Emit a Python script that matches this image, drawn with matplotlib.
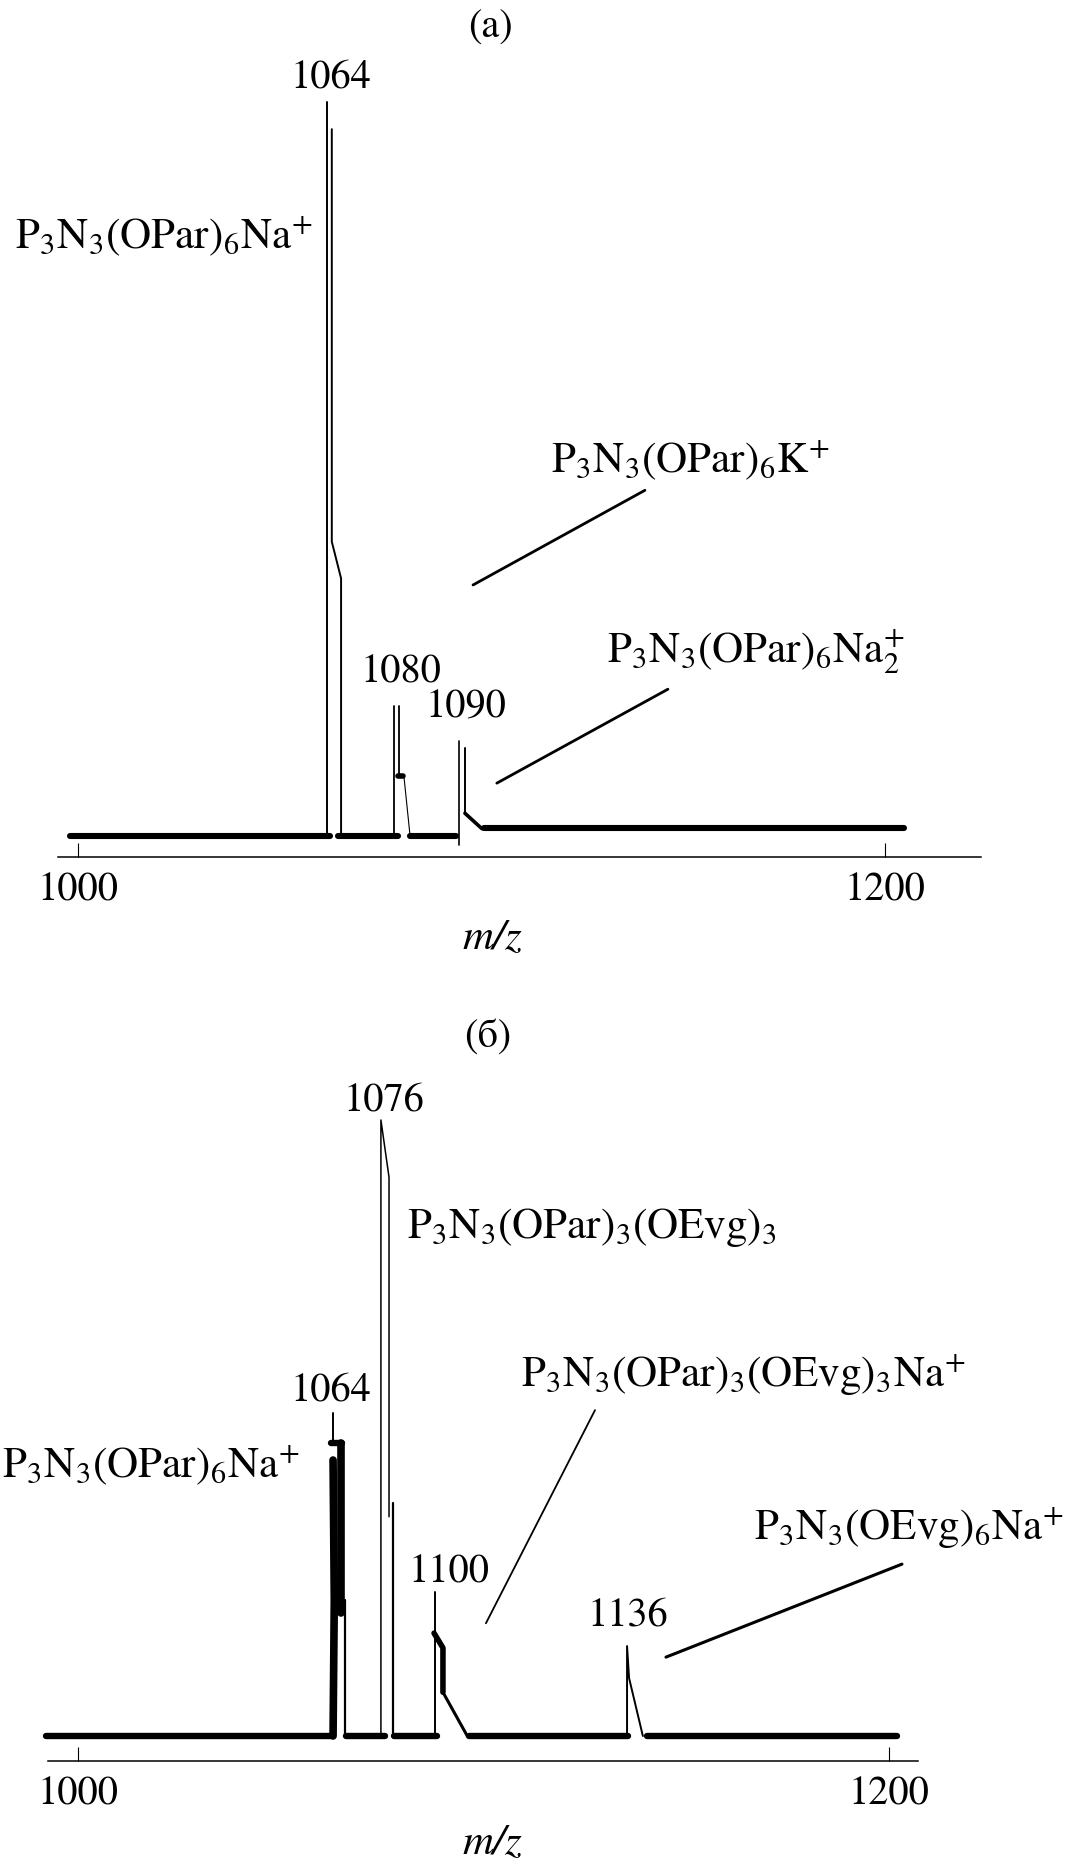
import matplotlib.pyplot as plt

plt.rcParams['font.family'] = ['STIXGeneral', 'DejaVu Serif']
plt.rcParams['mathtext.fontset'] = 'stix'

W, H = 1070, 1867
FS = 29      # numbers, ticks, panel letters
FS_LAB = 31  # formula labels

# ---- panel (a): thick baseline pieces (m/z from, m/z to, level)
a_base_from = [998.0, 1064.4, 1082.3, 1100.6]
a_base_to = [1062.5, 1079.3, 1093.7, 1204.7]
a_base_level = [0, 0, 0, 1.1]

# thin peak traces (m/z, relative intensity)
a_1064_mz = [1061.7, 1061.7]
a_1064_int = [0, 100]
a_1064b_mz = [1062.9, 1062.9, 1065.2, 1065.2]
a_1064b_int = [96.3, 40.1, 35.1, 0]
a_1080_mz = [1078.3, 1078.3]
a_1080_int = [0, 17.7]
a_1080b_mz = [1079.6, 1079.6]
a_1080b_int = [17.7, 8.3]
a_1080c_mz = [1080.8, 1082.3]
a_1080c_int = [8.0, 0]
a_1090_mz = [1094.4, 1094.4]
a_1090_int = [-1.2, 12.9]
a_1090b_mz = [1095.9, 1095.9]
a_1090b_int = [12.0, 3.1]
a_1090c_mz = [1095.9, 1100.1]
a_1090c_int = [3.1, 1.0]

# ---- panel (б)
b_base_from = [992.1, 1066.1, 1077.9, 1096.4, 1140.3]
b_base_to = [1062.9, 1075.7, 1088.5, 1135.6, 1202.0]

b_1064_mz = [1062.9, 1062.9]
b_1064_int = [52.4, 47.6]
b_1064top_mz = [1062.4, 1065.1]
b_1064top_int = [47.6, 47.6]
b_1064l_mz = [1062.9, 1063.2, 1062.9]
b_1064l_int = [44.8, 22.1, 0]
b_1064r_mz = [1064.8, 1064.8]
b_1064r_int = [47.6, 20.0]
b_1064t_mz = [1065.8, 1065.8]
b_1064t_int = [22.1, 0]
b_1076_mz = [1074.7, 1074.7, 1076.7, 1076.7]
b_1076_int = [0, 100, 90.7, 35.6]
b_1076b_mz = [1077.7, 1077.7]
b_1076b_int = [37.8, 0]
b_1100_mz = [1088.0, 1088.0]
b_1100_int = [0, 23.4]
b_1100b_mz = [1087.8, 1090.0, 1090.0]
b_1100b_int = [16.7, 14.3, 7.1]
b_1100c_mz = [1090.0, 1096.0]
b_1100c_int = [7.1, 0]
b_1136_mz = [1135.4, 1135.4, 1135.9, 1139.3]
b_1136_int = [0, 14.6, 9.4, 0]

lab_a = [r'$\mathrm{P_3N_3(OPar)_6Na}^{\!+}$', r'$\mathrm{P_3N_3(OPar)_6K}^{\!+}$',
         r'$\mathrm{P_3N_3(OPar)_6Na}_{2}^{+}$']
lab_b = [r'$\mathrm{P_3N_3(OPar)_6Na}^{\!+}$', r'$\mathrm{P_3N_3(OPar)_3(OEvg)_3}$',
         r'$\mathrm{P_3N_3(OPar)_3(OEvg)_3Na}^{\!+}$', r'$\mathrm{P_3N_3(OEvg)_6Na}^{\!+}$']

fig = plt.figure(figsize=(W / 100, H / 100), dpi=100)


def make_ax(top, bottom, xlim, ylim, bounds):
    ax = fig.add_axes([0, 1 - bottom / H, 1, (bottom - top) / H])
    ax.set_xlim(*xlim)
    ax.set_ylim(*ylim)
    for s in ['left', 'right', 'top']:
        ax.spines[s].set_visible(False)
    ax.spines['bottom'].set_bounds(*bounds)
    ax.spines['bottom'].set_linewidth(1.1)
    ax.set_yticks([])
    ax.set_xticks([1000, 1200])
    ax.set_xticklabels(['1000', '1200'])
    ax.tick_params(axis='x', direction='in', length=10, width=0.8,
                   pad=11, labelsize=FS)
    ax.patch.set_visible(False)
    return ax


def put(s, x, y, ha='left', va='baseline', size=FS, **kw):
    fig.text(x / W, 1 - y / H, s, ha=ha, va=va, fontsize=size, **kw)


def line(ax, mz, inten, lw):
    ax.plot(mz, inten, color='black', lw=lw, clip_on=False,
            solid_capstyle='round', solid_joinstyle='round')


# panel (a)
ax = make_ax(102, 857, (980.67, 1245.85), (-2.86, 100), (995.0, 1223.8))
for f, t, lv in zip(a_base_from, a_base_to, a_base_level):
    line(ax, [f, t], [lv, lv], 4.4)
line(ax, a_1064_mz, a_1064_int, 1.4)
line(ax, a_1064b_mz, a_1064b_int, 1.4)
line(ax, a_1080_mz, a_1080_int, 1.3)
line(ax, a_1080b_mz, a_1080b_int, 1.3)
line(ax, [1079.3, 1080.6], [8.2, 8.2], 4.0)
line(ax, a_1080c_mz, a_1080c_int, 0.8)
line(ax, a_1090_mz, a_1090_int, 1.2)
line(ax, a_1090b_mz, a_1090b_int, 1.4)
line(ax, a_1090c_mz, a_1090c_int, 2.6)
# leader lines
line(ax, [1097.9, 1140.5], [34.2, 47.1], 2.0)
line(ax, [1103.8, 1146.2], [7.2, 20.0], 2.0)

put('(a)', 490, 28, ha='center', va='center')
put('1064', 331, 87, ha='center')
put(lab_a[0], 15, 248, size=FS_LAB)
put(lab_a[1], 551, 472, size=FS_LAB)
put(lab_a[2], 607, 662, size=FS_LAB)
put('1080', 401, 682, ha='center')
put('1090', 466, 718, ha='center')
put('m/z', 492, 938, ha='center', va='center', style='italic', size=31)

# panel (б)
ax = make_ax(1120, 1761, (980.76, 1244.64), (-4.06, 100), (992.6, 1207.2))
for f, t in zip(b_base_from, b_base_to):
    line(ax, [f, t], [0, 0], 4.6)
line(ax, b_1064_mz, b_1064_int, 1.4)
line(ax, b_1064top_mz, b_1064top_int, 4.6)
line(ax, b_1064l_mz, b_1064l_int, 5.5)
line(ax, b_1064r_mz, b_1064r_int, 5.5)
line(ax, b_1064t_mz, b_1064t_int, 1.6)
line(ax, b_1076_mz, b_1076_int, 1.1)
line(ax, b_1076b_mz, b_1076b_int, 1.6)
line(ax, b_1100_mz, b_1100_int, 1.4)
line(ax, b_1100b_mz, b_1100b_int, 4.0)
line(ax, b_1100c_mz, b_1100c_int, 2.2)
line(ax, b_1136_mz, b_1136_int, 1.4)
# leader lines
line(ax, [1127.5, 1100.6], [52.9, 18.3], 1.3)
line(ax, [1203.2, 1145.0], [27.9, 12.8], 2.2)

put('(б)', 488, 1037, ha='center', va='center')
put('1076', 384, 1110, ha='center')
put(lab_b[1], 407, 1238, size=FS_LAB)
put('1064', 331, 1400, ha='center')
put(lab_b[0], 2, 1477, size=FS_LAB)
put(lab_b[2], 521, 1387, size=FS_LAB)
put('1100', 449, 1582, ha='center')
put('1136', 628, 1625, ha='center')
put(lab_b[3], 1064, 1540, ha='right', size=FS_LAB)
put('m/z', 492, 1843, ha='center', va='center', style='italic', size=31)

fig.savefig('out.png', dpi=100)
